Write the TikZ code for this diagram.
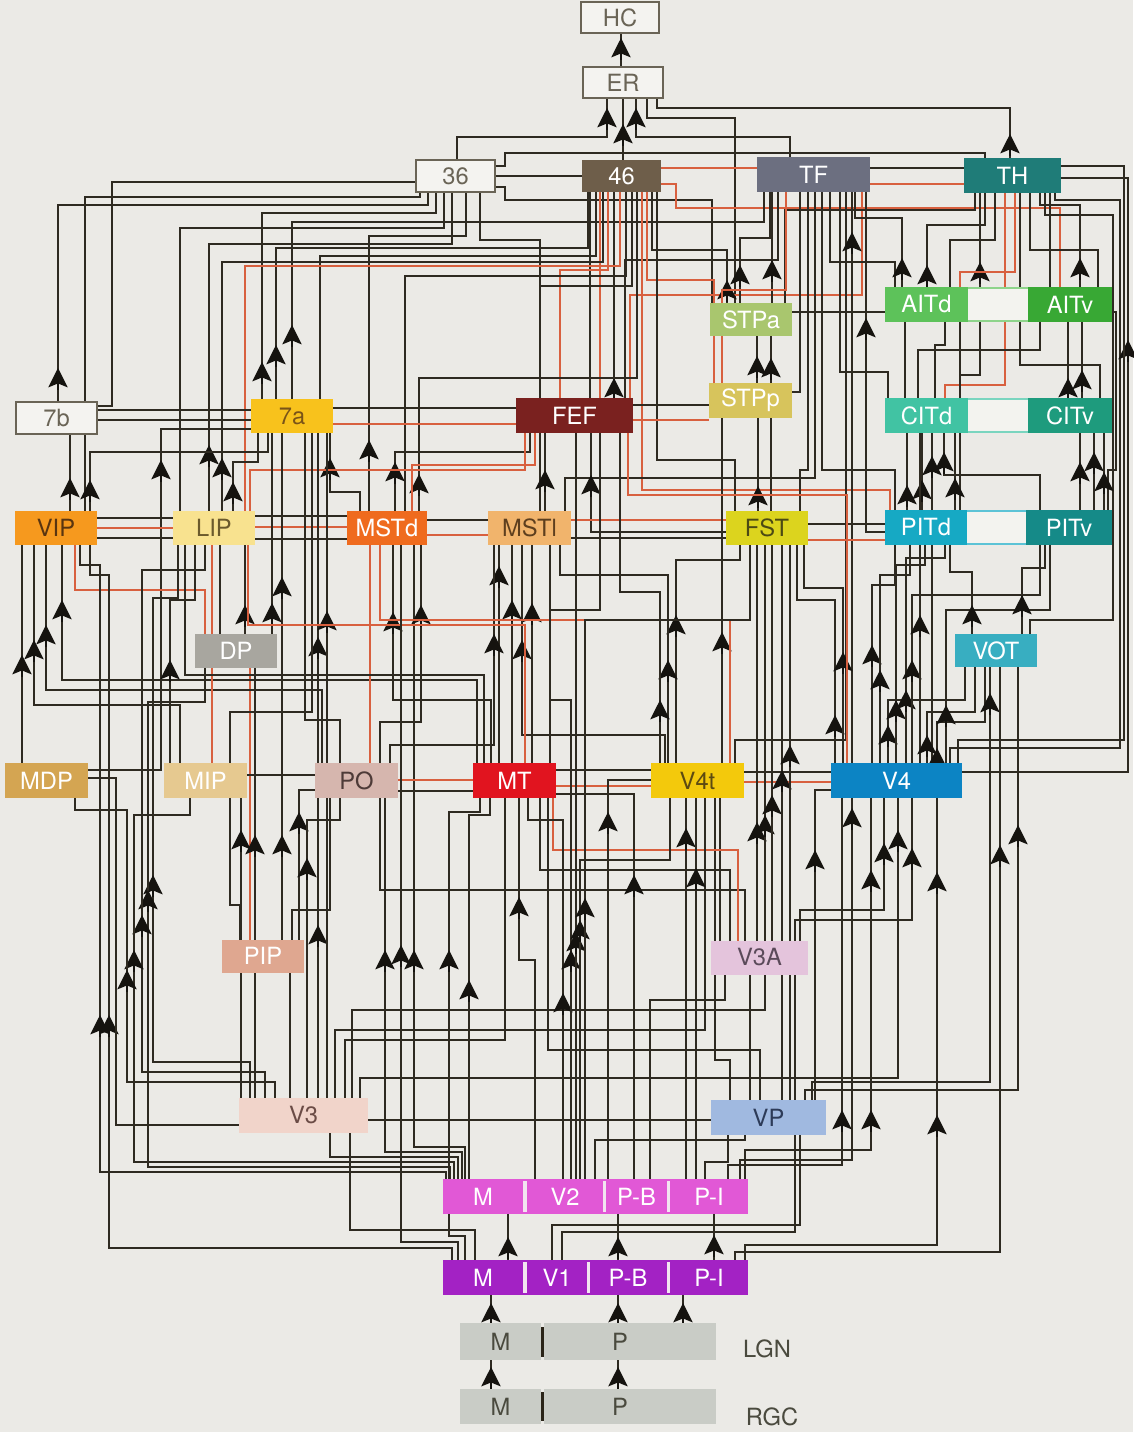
\documentclass[tikz,border=0pt]{standalone}
\usepackage{fontspec}
\setmainfont{TeX Gyre Heros}
\usetikzlibrary{arrows.meta}
\pgfdeclarelayer{back}
\pgfdeclarelayer{wires}
\pgfsetlayers{back,wires,main}
\definecolor{bgc}{HTML}{EBEAE6}
\definecolor{wirec}{HTML}{2E2A21}
\definecolor{tipc}{HTML}{15130F}
\definecolor{redc}{HTML}{D8603F}
\definecolor{boxw}{HTML}{F4F3F0}
\definecolor{boxl}{HTML}{6A6456}
\definecolor{c46}{HTML}{6E5E4A}
\definecolor{cTF}{HTML}{6C6F80}
\definecolor{cTH}{HTML}{1F7C78}
\definecolor{cAITd}{HTML}{5DC25A}
\definecolor{cAITv}{HTML}{38A834}
\definecolor{cSTPa}{HTML}{A9C66E}
\definecolor{cSTPp}{HTML}{D7C45C}
\definecolor{c7a}{HTML}{F8C21C}
\definecolor{t7a}{HTML}{7A5418}
\definecolor{cFEF}{HTML}{7A211F}
\definecolor{cCITd}{HTML}{41C3A3}
\definecolor{cCITv}{HTML}{1E9B7D}
\definecolor{cVIP}{HTML}{F6991E}
\definecolor{tVIP}{HTML}{5A3510}
\definecolor{cLIP}{HTML}{F8E28F}
\definecolor{tLIP}{HTML}{6B5A2C}
\definecolor{cMSTd}{HTML}{EF6B1E}
\definecolor{cMSTl}{HTML}{F1B46C}
\definecolor{tMSTl}{HTML}{5E3F1E}
\definecolor{cFST}{HTML}{DCD41E}
\definecolor{tFST}{HTML}{4C4A14}
\definecolor{cPITd}{HTML}{16A9C4}
\definecolor{cPITv}{HTML}{158A88}
\definecolor{cDP}{HTML}{A8A69F}
\definecolor{cVOT}{HTML}{38AEC1}
\definecolor{cMDP}{HTML}{D4A552}
\definecolor{cMIP}{HTML}{E6C990}
\definecolor{cPO}{HTML}{D6B6AE}
\definecolor{tPO}{HTML}{4E3B38}
\definecolor{cMT}{HTML}{E1141F}
\definecolor{cV4t}{HTML}{F3C90C}
\definecolor{tV4t}{HTML}{5C4A12}
\definecolor{cV4}{HTML}{0C84C4}
\definecolor{cPIP}{HTML}{DFA790}
\definecolor{cV3A}{HTML}{E4C4DC}
\definecolor{tV3A}{HTML}{5B4A5A}
\definecolor{cV3}{HTML}{F1D4CA}
\definecolor{tV3}{HTML}{6B4C46}
\definecolor{cVP}{HTML}{A0B9E0}
\definecolor{tVP}{HTML}{2D3B58}
\definecolor{cV2}{HTML}{E158D6}
\definecolor{cV1}{HTML}{A322C4}
\definecolor{cLGN}{HTML}{C9CCC6}
\definecolor{tLGN}{HTML}{4A4A3E}
\definecolor{sepV}{HTML}{F2E4F0}
\definecolor{sepk}{HTML}{2A2418}
\definecolor{bandc}{HTML}{F3F3EF}
\tikzset{
 wire/.style={draw=wirec,line width=0.95pt},
 redw/.style={draw=redc,line width=0.75pt},
 nb/.style={rectangle,inner sep=0pt,outer sep=0pt,font=\fontsize{13.5}{15}\selectfont},
 sz/.style 2 args={minimum width=#1*0.02cm,minimum height=#2*0.02cm},
 wb/.style={fill=boxw,draw=boxl,line width=0.8pt,text=boxl},
 tipa/.style={draw=tipc,fill=tipc,line width=0.95pt,-{Stealth[length=11pt,width=11pt,inset=2.2pt]}}
}
\newcommand\cU[6][wire]{\draw[#1] (#3,0 |- #2.north) |- (#6,#4) -- (#6,0 |- #5.south);}
\newcommand\cUU[8][wire]{\draw[#1] (#3,0 |- #2.north) |- (#5,#4) |- (#8,#6) -- (#8,0 |- #7.south);}
\newcommand\cH[4][wire]{\draw[#1] (#2.east |- 0,#4) -- (#3.west |- 0,#4);}
\newcommand\cAr[2]{\draw[tipa] (#1,#2+22) -- (#1,#2);}
\begin{document}
\begin{tikzpicture}[x=0.02cm,y=-0.02cm]
\useasboundingbox (0,0) rectangle (1133,1432);
\begin{pgfonlayer}{back}
\fill[bgc] (0,0) rectangle (1133,1432);
\end{pgfonlayer}
% bands
\draw[fill=bandc,draw=cAITd!70,line width=0.6pt] (966,288) rectangle (1029,321);
\draw[fill=bandc,draw=cCITd!70,line width=0.6pt] (966,399) rectangle (1029,432);
\draw[fill=bandc,draw=cPITd!70,line width=0.6pt] (966,511) rectangle (1027,544);
% nodes
\node[nb,wb,sz={78}{31}] (HC) at (620,17.5) {HC};
\node[nb,wb,sz={80}{31}] (ER) at (623,82.5) {ER};
\node[nb,wb,sz={79}{32}] (n36) at (455.5,176) {36};
\node[nb,sz={79}{32},fill=c46,text=white] (n46) at (621.5,176) {46};
\node[nb,sz={113}{35},fill=cTF,text=white] (TF) at (813.5,174.5) {TF};
\node[nb,sz={97}{35},fill=cTH,text=white] (TH) at (1012.5,175.5) {TH};
\node[nb,sz={83}{35},fill=cAITd,text=white] (AITd) at (926.5,304.5) {AITd};
\node[nb,sz={84}{35},fill=cAITv,text=white] (AITv) at (1070,304.5) {AITv};
\node[nb,sz={82}{33},fill=cSTPa,text=white] (STPa) at (751,319.5) {STPa};
\node[nb,sz={83}{35},fill=cSTPp,text=white] (STPp) at (750.5,400.5) {STPp};
\node[nb,wb,sz={81}{32}] (n7b) at (56.5,418) {7b};
\node[nb,sz={82}{34},fill=c7a,text=t7a] (n7a) at (292,416) {7a};
\node[nb,sz={117}{35},fill=cFEF,text=white] (FEF) at (574.5,415.5) {FEF};
\node[nb,sz={83}{35},fill=cCITd,text=white] (CITd) at (926.5,415.5) {CITd};
\node[nb,sz={84}{35},fill=cCITv,text=white] (CITv) at (1070,415.5) {CITv};
\node[nb,sz={82}{34},fill=cVIP,text=tVIP] (VIP) at (56,528) {VIP};
\node[nb,sz={82}{34},fill=cLIP,text=tLIP] (LIP) at (214,528) {LIP};
\node[nb,sz={80}{34},fill=cMSTd,text=white] (MSTd) at (387,528) {MSTd};
\node[nb,sz={83}{34},fill=cMSTl,text=tMSTl] (MSTl) at (529.5,528) {MSTl};
\node[nb,sz={82}{34},fill=cFST,text=tFST] (FST) at (767,528) {FST};
\node[nb,sz={82}{35},fill=cPITd,text=white] (PITd) at (926,527.5) {PITd};
\node[nb,sz={86}{35},fill=cPITv,text=white] (PITv) at (1069,527.5) {PITv};
\node[nb,sz={82}{34},fill=cDP,text=white] (DP) at (236,651) {DP};
\node[nb,sz={82}{33},fill=cVOT,text=white] (VOT) at (996,650.5) {VOT};
\node[nb,sz={83}{35},fill=cMDP,text=white] (MDP) at (46.5,780.5) {MDP};
\node[nb,sz={83}{35},fill=cMIP,text=white] (MIP) at (205.5,780.5) {MIP};
\node[nb,sz={83}{35},fill=cPO,text=tPO] (PO) at (356.5,780.5) {PO};
\node[nb,sz={83}{35},fill=cMT,text=white] (MT) at (514.5,780.5) {MT};
\node[nb,sz={93}{35},fill=cV4t,text=tV4t] (V4t) at (697.5,780.5) {V4t};
\node[nb,sz={131}{35},fill=cV4,text=white] (V4) at (896.5,780.5) {V4};
\node[nb,sz={82}{33},fill=cPIP,text=white] (PIP) at (263,956) {PIP};
\node[nb,sz={97}{34},fill=cV3A,text=tV3A] (V3A) at (759.5,957.5) {V3A};
\node[nb,sz={129}{35},fill=cV3,text=tV3] (V3) at (303.5,1115.5) {V3};
\node[nb,sz={115}{35},fill=cVP,text=tVP] (VP) at (768.5,1117.5) {VP};
% V2 row
\fill[cV2] (443,1179) rectangle (748,1214);
\node[nb,sz={80}{35},fill=cV2,text=white] (V2M) at (483,1196.5) {M};
\node[nb,sz={76}{35},fill=cV2,text=white] (V2L) at (565,1196.5) {V2};
\node[nb,sz={61}{35},fill=cV2,text=white] (V2PB) at (636.5,1196.5) {P-B};
\node[nb,sz={78}{35},fill=cV2,text=white] (V2PI) at (709,1196.5) {P-I};
\fill[sepV] (523,1181) rectangle (526.5,1212);
\fill[sepV] (602.5,1181) rectangle (606,1212);
\fill[sepV] (666.5,1181) rectangle (670,1212);
% V1 row
\fill[cV1] (443,1260) rectangle (748,1295);
\node[nb,sz={80}{35},fill=cV1,text=white] (V1M) at (483,1277.5) {M};
\node[nb,sz={60}{35},fill=cV1,text=white] (V1L) at (557,1277.5) {V1};
\node[nb,sz={76}{35},fill=cV1,text=white] (V1PB) at (628,1277.5) {P-B};
\node[nb,sz={78}{35},fill=cV1,text=white] (V1PI) at (709,1277.5) {P-I};
\fill[sepV] (523,1262) rectangle (526.5,1293);
\fill[sepV] (586.5,1262) rectangle (590,1293);
\fill[sepV] (666.5,1262) rectangle (670,1293);
% LGN, RGC
\node[nb,sz={81}{37},fill=cLGN,text=tLGN] (LGNM) at (500.5,1341.5) {M};
\node[nb,sz={172}{37},fill=cLGN] (LGNP) at (630,1341.5) {};
\node[nb,text=tLGN] (LGNPt) at (620,1341.5) {P};
\fill[sepk] (540.5,1327) rectangle (544,1357);
\node[nb,sz={81}{35},fill=cLGN,text=tLGN] (RGCM) at (500.5,1406.5) {M};
\node[nb,sz={172}{35},fill=cLGN] (RGCP) at (630,1406.5) {};
\node[nb,text=tLGN] (RGCPt) at (620,1406.5) {P};
\fill[sepk] (540.5,1392) rectangle (544,1421);
\node[nb,text=tLGN] (lgnlab) at (767,1349) {LGN};
\node[nb,text=tLGN] (rgclab) at (772,1417) {RGC};

\begin{pgfonlayer}{wires}
% ---------- top
\cU{ER}{621}{50}{HC}{621}\cAr{621}{38}
\cU{n46}{623}{140}{ER}{623}\cAr{623}{124}
\cU{n36}{457}{137}{ER}{607}\cAr{607}{108}
\cU{TF}{790}{137}{ER}{636}\cAr{636}{108}
\cU{TH}{1010}{108}{ER}{657}\cAr{1010}{134}
\cU{STPa}{735}{118}{ER}{647}
\cH{n36}{n46}{176}
\draw[wire] (n36.east |- 0,166) -| (505,153) -| (985,0 |- TH.north);
\draw[wire] (n36.east |- 0,187) -| (505,200) -| (712,0 |- STPa.north);
\cH[redw]{n46}{TF}{168}
\draw[redw] (n46.east |- 0,184) -| (676,208) -| (1060,0 |- AITv.north);
\cH{TF}{TH}{168}
\cH[redw]{TF}{TH}{184}
\cU{VIP}{85}{197}{n36}{420}
\cU{n7b}{58}{205}{n36}{428}\cAr{58}{368}
\cU{n7a}{262}{213}{n36}{436}\cAr{262}{362}
\cU{LIP}{180}{228}{n36}{444}
\cU{LIP}{209}{244}{n36}{452}\cAr{209}{445}
\cU{MSTd}{369}{236}{n36}{466}\cAr{369}{440}
\cU{FEF}{540}{240}{n36}{480}
\cU{n7a}{276}{248}{n46}{588}\cAr{276}{345}
\cU{n7a}{292}{222}{TF}{764}\cAr{292}{325}
\cU{n7a}{320}{256}{n46}{596}
\cU{FEF}{614}{380}{n46}{614}\cAr{614}{378}
\cU{FEF}{590}{300}{n46}{590}
\cU[redw]{FEF}{600}{300}{n46}{600}
\cU{FEF}{625}{260}{TF}{778}
\cU[redw]{FEF}{560}{270}{n46}{608}
\cU[redw]{FEF}{630}{295}{TF}{862}
\cU{LIP}{222}{262}{n46}{603}\cAr{222}{458}
\cU[redw]{LIP}{245}{266}{n46}{620}
\cU{MSTd}{405}{276}{n46}{626}
\cU{MSTl}{540}{286}{n46}{632}
\cU{MSTd}{419}{378}{n46}{637}\cAr{419}{474}
\cU[redw]{PITd}{890}{490}{n46}{642}
\cU[redw]{STPp}{714}{280}{n46}{647}
\cU{STPa}{727}{250}{n46}{652}\cAr{727}{280}
\cU{FST}{735}{460}{n46}{657}
% ---------- TF
\cU{STPa}{740}{238}{TF}{770}\cAr{740}{265}
\cU{STPa}{772}{230}{TF}{772}\cAr{772}{260}
\cU{STPa}{785}{210}{TH}{975}
\draw[wire] (STPp.east |- 0,392) -| (800,0 |- TF.south);
\cU[redw]{STPp}{722}{290}{TF}{786}
\cU{FST}{800}{470}{TF}{808}
\cU{MSTl}{565}{478}{TF}{815}
\cU{PITd}{895}{470}{TF}{822}
\cU{AITd}{895}{262}{TF}{830}
\cU{CITd}{888}{372}{TF}{840}
\cU{V4t}{735}{740}{TF}{846}
\cU{V4}{852}{700}{TF}{852}\cAr{852}{232}
\cU{AITd}{902}{218}{TF}{855}\cAr{902}{258}
\draw[wire] (PITd.west |- 0,532) -| (866,0 |- TF.south);\cAr{866}{318}
% ---------- TH
\cU{AITd}{927}{225}{TH}{985}\cAr{927}{265}
\cU{CITd}{960}{375}{TH}{980}\cAr{980}{262}
\cU{AITd}{950}{240}{TH}{995}
\cU[redw]{CITd}{945}{385}{TH}{1005}
\cU[redw]{AITd}{960}{272}{TH}{1015}
\cU{CITv}{1100}{365}{TH}{1020}
\cU{AITv}{1098}{250}{TH}{1030}
\cU{AITv}{1080}{205}{TH}{1040}\cAr{1080}{258}
\cUU{VOT}{1030}{620}{1113}{215}{TH}{1045}
\cU{AITv}{1050}{232}{TH}{1050}
\cUU{V4}{950}{748}{1120}{200}{TH}{1055}
\draw[wire] (V4.east |- 0,772) -| (1128,178) -- (TH.east |- 0,178);\cAr{1128}{340}
\draw[wire] (TH.east |- 0,166) -| (1124,740) -| (958,0 |- V4.north);
% ---------- STP
\cU{STPp}{757}{370}{STPa}{757}\cAr{757}{356}
\cU{FST}{771}{460}{STPa}{771}\cAr{771}{358}
\cU{FST}{758}{470}{STPp}{758}\cAr{758}{486}
\cH{STPa}{AITd}{312}
\cH{FEF}{STPp}{405}
\cH[redw]{FEF}{STPp}{420}
\cH{n7a}{FEF}{408}
\cH[redw]{n7a}{FEF}{424}
\cH{n7b}{n7a}{410}
\cH{n7b}{n7a}{420}
\draw[wire] (n7b.east |- 0,406) -| (112,182) -- (n36.west |- 0,182);
% ---------- CIT / AIT
\cU{CITd}{905}{360}{AITd}{905}
\cU{CITd}{935}{345}{AITd}{945}
\cU{CITd}{918}{350}{AITv}{1040}
\cU{CITv}{1068}{360}{AITv}{1068}\cAr{1068}{378}
\cU{CITv}{1082}{360}{AITv}{1082}\cAr{1082}{370}
\cU{PITd}{960}{490}{AITd}{960}
\draw[wire] (AITv.east |- 0,312) -| (1116,470) -| (1108,0 |- PITv.north);
% ---------- PIT to CIT
\cU{PITd}{907}{470}{CITd}{907}\cAr{907}{485}
\cU{PITd}{922}{465}{CITd}{922}\cAr{922}{480}
\cU{PITd}{955}{470}{CITd}{955}\cAr{955}{478}
\cU{V4}{932}{700}{CITd}{932}\cAr{932}{456}
\cU{PITv}{1040}{475}{CITd}{944}\cAr{944}{452}
\cU{PITv}{1080}{470}{CITv}{1080}\cAr{1080}{462}
\cU{PITv}{1094}{460}{CITv}{1094}\cAr{1094}{452}
\cU{PITv}{1104}{470}{CITv}{1104}\cAr{1104}{472}
% ---------- VIP row upward
\cU{VIP}{70}{470}{n7b}{70}\cAr{70}{478}
\cU{VIP}{90}{452}{n7a}{268}\cAr{90}{480}
\cU{LIP}{233}{462}{n7a}{258}\cAr{233}{482}
\cU{MSTd}{360}{492}{n7a}{330}\cAr{330}{458}
\cU{MSTd}{395}{452}{FEF}{530}\cAr{395}{462}
\cU[redw]{MSTd}{412}{465}{FEF}{535}
\cU{MSTl}{545}{450}{FEF}{545}\cAr{545}{470}
\cU[redw]{LIP}{250}{470}{FEF}{525}
\draw[wire] (FST.west |- 0,532) -| (591,0 |- FEF.south);\cAr{591}{475}
\draw[wire] (MDP.east |- 0,770) -| (161,429) -- (n7a.west |- 0,429);\cAr{161}{460}
% side lines
\cH{VIP}{LIP}{518}\cH[redw]{VIP}{LIP}{528}\cH{VIP}{LIP}{538}
\cH{LIP}{MSTd}{516}\cH[redw]{LIP}{MSTd}{527}\cH{LIP}{MSTd}{539}
\cH{MSTd}{MSTl}{520}\cH[redw]{MSTd}{MSTl}{535}
\cH[redw]{MSTl}{FST}{520}\cH{MSTl}{FST}{538}
\cH{FST}{PITd}{524}\cH[redw]{FST}{PITd}{540}
% ---------- DP
\cU{DP}{245}{585}{LIP}{245}\cAr{245}{605}
\cU{PIP}{282}{700}{n7a}{282}\cAr{282}{577}\cAr{282}{835}
\cU{DP}{272}{600}{n7a}{272}\cAr{272}{603}
\cU{DP}{220}{560}{LIP}{220}
\cU[redw]{DP}{205}{590}{VIP}{75}
\cU[redw]{PIP}{250}{850}{DP}{250}
% ---------- VIP bottom
\cU{MDP}{22}{720}{VIP}{22}\cAr{22}{655}
\cU{MIP}{180}{705}{VIP}{34}\cAr{34}{640}
\cU{PO}{322}{690}{VIP}{46}\cAr{46}{625}
\cU{MT}{477}{680}{VIP}{62}\cAr{62}{600}
\cUU{V2M}{446}{1172}{100}{565}{VIP}{80}\cAr{100}{1015}
\cUU{V1M}{452}{1248}{109}{575}{VIP}{90}\cAr{109}{1015}
% ---------- left region
\cUU{V3}{250}{1062}{153}{598}{LIP}{178}\cAr{153}{875}
\cUU{V2M}{450}{1167}{148}{702}{DP}{205}\cAr{148}{890}
\cUU{V3}{265}{1072}{142}{570}{LIP}{205}\cAr{142}{915}
\cUU{V2M}{454}{1162}{134}{815}{MIP}{190}\cAr{134}{950}
\cUU{V3}{275}{1082}{127}{810}{MDP}{75}\cAr{127}{970}
\cU{V2M}{458}{1157}{V3}{330}
\cU{V2M}{462}{1152}{PO}{385}\cAr{385}{950}
\cU{V2M}{465}{1147}{MSTd}{414}\cAr{414}{950}
\cU{V2M}{469}{815}{MT}{490}\cAr{469}{980}
% ---------- PO / MIP
\cU{V3}{241}{1050}{MIP}{241}\cAr{241}{830}
\cU{V3}{255}{1050}{DP}{255}\cAr{255}{835}
\cU{V3}{290}{1050}{PIP}{290}
\draw[wire] (299,0 |- PIP.north) |- (PO.west |- 0,790);\cAr{299}{812}
\cU{V3}{307}{820}{PO}{340}\cAr{307}{858}
\cU{V3}{318}{1060}{PO}{318}\cAr{318}{925}
\cU{PO}{318}{700}{n7a}{318}\cAr{318}{637}
\cU{V3}{327}{700}{n7a}{327}\cAr{327}{611}
\cU{PO}{340}{720}{n7a}{305}
\cU{MIP}{230}{712}{n7a}{312}
\draw[wire] (MDP.east |- 0,778) -| (116,1125) -- (V3.west |- 0,1125);
\cH{MIP}{PO}{775}
\cH[redw]{PO}{MT}{780}
\cH{PO}{MT}{791}
\cU{PIP}{240}{905}{MIP}{230}
\cU{PIP}{292}{910}{PO}{330}
\cU[redw]{PO}{370}{700}{MSTd}{370}
\cU[redw]{MIP}{212}{700}{LIP}{212}
\cU{MIP}{170}{600}{LIP}{195}\cAr{170}{660}
% ---------- MT
\cU{MT}{491}{700}{MSTd}{393}\cAr{393}{612}
\cU{PO}{380}{722}{MSTd}{421}\cAr{421}{605}
\cU{MT}{499}{690}{MSTl}{499}\cAr{499}{566}
\cU{MT}{512}{690}{MSTl}{512}\cAr{512}{600}
\cU{MT}{532}{690}{MSTl}{532}\cAr{532}{603}
\cU{PO}{390}{745}{MSTl}{494}\cAr{494}{634}
\cU{V4t}{665}{735}{MSTl}{522}\cAr{522}{640}
\cU{MT}{550}{610}{FEF}{600}
\cU{MT}{484}{675}{LIP}{185}
\cU[redw]{MT}{525}{625}{LIP}{248}
\cH{MT}{V4t}{770}\cH[redw]{MT}{V4t}{786}
\cH{V4t}{V4}{772}\cH[redw]{V4t}{V4}{782}
% ---------- V4t
\cU{V4t}{676}{560}{FST}{740}\cAr{676}{615}
\cU{V4t}{668}{575}{MSTl}{560}\cAr{668}{660}
\cU{V4t}{660}{592}{FEF}{620}\cAr{660}{700}
\cU{V4t}{722}{600}{STPp}{722}\cAr{722}{632}
\cU[redw]{V4t}{730}{620}{MSTd}{380}
% ---------- V4 upward
\cU{V4}{835}{600}{FST}{797}\cAr{835}{715}
\cU{V4}{843}{588}{FST}{804}\cAr{843}{652}
\cU[redw]{V4}{847}{495}{FEF}{628}
\cU{V4}{872}{585}{PITd}{895}\cAr{872}{645}
\cU{V4}{880}{575}{PITd}{910}\cAr{880}{670}
\cU{V4}{888}{700}{VOT}{965}\cAr{888}{725}
\cU{V4}{896}{565}{PITd}{925}\cAr{896}{700}
\cU{V4}{906}{558}{PITd}{945}\cAr{906}{690}
\cU{V4}{912}{595}{PITv}{1040}\cAr{912}{660}
\cU{V4}{920}{700}{CITd}{920}\cAr{920}{615}
\cU{V4}{927}{712}{VOT}{975}\cAr{927}{735}
\cU{V4}{937}{722}{VOT}{985}\cAr{937}{748}
\cU{V4}{946}{610}{PITv}{1050}\cAr{946}{705}
\cU{VOT}{972}{572}{PITd}{950}\cAr{972}{605}
\cU{VOT}{1022}{568}{PITv}{1045}\cAr{1022}{595}
\cU{VP}{812}{1082}{VOT}{990}\cAr{990}{693}
\cU{VP}{805}{1090}{VOT}{1018}\cAr{1018}{825}
\cU{V1PI}{735}{1252}{VOT}{1000}\cAr{1000}{845}
% ---------- V3A / VP upward
\cU{V3A}{757}{900}{FST}{757}\cAr{757}{822}
\cU{V3A}{765}{900}{FST}{765}\cAr{765}{815}
\cU{V3A}{772}{900}{FST}{772}\cAr{772}{795}
\cU{VP}{782}{1000}{FST}{782}\cAr{782}{770}
\cU{VP}{790}{1000}{FST}{790}\cAr{790}{745}
\draw[wire] (815,0 |- VP.north) |- (V4.west |- 0,790);\cAr{815}{850}
\cU{V2PI}{740}{1160}{V4}{852}\cAr{852}{808}
\cU{V2PI}{728}{1165}{V4}{842}\cAr{842}{1110}
\cU{V2PI}{745}{1150}{V4}{871}\cAr{871}{1110}\cAr{871}{870}
\cU{V3A}{800}{910}{V4}{884}\cAr{884}{843}
\cU{V3}{360}{1078}{V4}{898}\cAr{898}{830}
\cU{V3A}{795}{920}{V4}{912}\cAr{912}{848}
\cU{V1PI}{745}{1245}{V4}{937}\cAr{937}{1115}\cAr{937}{872}
\cU{VP}{750}{1080}{V3A}{750}
\cU{VP}{730}{1060}{V4t}{715}
\cU{VP}{760}{1050}{MT}{548}
\cU{V3A}{720}{880}{V4t}{720}
\cU{V3A}{730}{870}{MT}{540}
\cU{V3A}{745}{890}{PO}{380}
\cU[redw]{V3A}{738}{850}{MT}{553}
\cU{V3}{335}{1030}{V4t}{705}
\cU{V3}{345}{1040}{MT}{505}
\cU{V3}{352}{1010}{V3A}{765}
\cH{V3}{VP}{1120}
% ---------- V2 upward
\cU{V2L}{535}{960}{MT}{519}\cAr{519}{897}
\cU{V2L}{563}{820}{MT}{528}\cAr{563}{993}
\cU{V2L}{571}{700}{MSTl}{550}\cAr{571}{950}
\cU{V2L}{576}{700}{FEF}{576}\cAr{576}{932}
\cU{V2L}{580}{860}{V4t}{670}\cAr{580}{920}
\cU{V2L}{585}{620}{FST}{750}\cAr{585}{898}
\cU{V2L}{595}{1140}{VP}{745}
\draw[wire] (608,0 |- V2PB.north) |- (V4t.west |- 0,780);\cAr{608}{812}
\draw[wire] (634,0 |- V2PB.north) |- (MT.east |- 0,794);\cAr{634}{875}
\cU{V2PB}{650}{1000}{V3A}{725}
\cU{V2PI}{686}{1160}{V4t}{686}\cAr{686}{828}
\cU{V2PI}{696}{1160}{V4t}{696}\cAr{696}{868}
\cU{V2PI}{705}{1162}{VP}{728}
% ---------- V1
\cU{V1M}{508}{1240}{V2M}{508}\cAr{508}{1237}
\cU{V1PB}{618}{1240}{V2PB}{618}\cAr{618}{1237}
\cU{V1PI}{714}{1240}{V2PI}{714}\cAr{714}{1235}
\cU{V1M}{458}{1242}{MSTd}{401}\cAr{401}{945}
\cUU{V1M}{465}{1236}{449}{812}{MT}{480}\cAr{449}{950}
\cU{V1M}{475}{1230}{V3}{350}
\cU{V1L}{552}{1225}{VP}{800}
\cU{V1L}{562}{1232}{V3A}{795}
% ---------- LGN / RGC
\cU{LGNM}{491}{1310}{V1M}{491}\cAr{491}{1303}
\cU{LGNP}{618}{1310}{V1PB}{618}\cAr{618}{1303}
\cU{LGNP}{683}{1310}{V1PI}{683}\cAr{683}{1303}
\cU{RGCM}{491}{1375}{LGNM}{491}\cAr{491}{1367}
\cU{RGCP}{618}{1375}{LGNP}{618}\cAr{618}{1367}
\end{pgfonlayer}
\end{tikzpicture}
\end{document}
